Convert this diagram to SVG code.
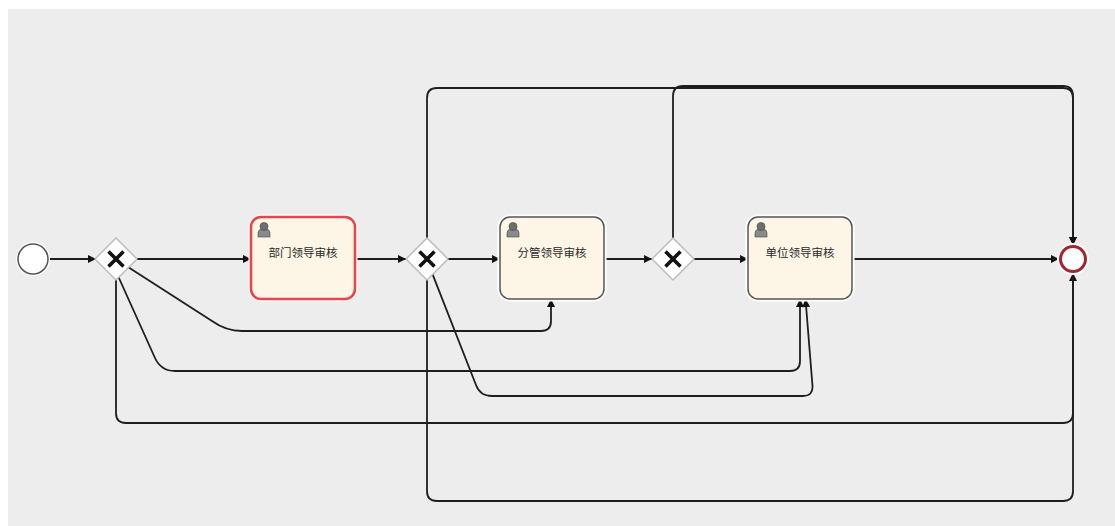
<svg xmlns="http://www.w3.org/2000/svg" width="1115" height="526" viewBox="0 0 1115 526">
<defs>
<style>
.edge{fill:none;stroke:#1e1e1e;stroke-width:1.8;}
.gw{fill:#fff;stroke:#bdbdbd;stroke-width:1.5;}
.gwx{stroke:#111;stroke-width:3.6;stroke-linecap:butt;}
.halo{fill:none;stroke:#fff;stroke-width:5;}
.task{fill:#fdf5e6;stroke:#555;stroke-width:1.5;}
.task-sel{fill:#fdf5e6;stroke:#e8454a;stroke-width:2.6;}
.lbl{font-family:"Noto Sans CJK SC","Noto Sans",sans-serif;font-size:11.5px;fill:#2a2a2a;text-anchor:middle;dominant-baseline:central;}
.uh{fill:#6f6f6f;stroke:#444;stroke-width:0.6;}
.ub{fill:#8a8a8a;stroke:#444;stroke-width:0.6;}
</style>
<marker id="arrL" viewBox="0 0 10 10" refX="10" refY="5" markerWidth="11" markerHeight="8" orient="auto" markerUnits="userSpaceOnUse">
<path d="M0,0 L10,5 L0,10 z" fill="#111"/>
</marker>
<g id="usericon">
<path class="ub" d="M0,15 L0,11 Q0,7.5 4,7 L8,7 Q12,7.5 12,11 L12,15 z"/>
<circle class="uh" cx="6" cy="4.5" r="4"/>
</g>
</defs>
<rect x="0" y="0" width="1115" height="526" fill="#ffffff"/>
<rect x="8" y="9" width="1107" height="517" fill="#ededed"/>

<g id="connectors">
<path class="edge" d="M48,259 H96" marker-end="url(#arrL)"/>
<path class="edge" d="M137,259 H251" marker-end="url(#arrL)"/>
<path class="edge" d="M355,259 H406" marker-end="url(#arrL)"/>
<path class="edge" d="M448,259 H500" marker-end="url(#arrL)"/>
<path class="edge" d="M604,259 H652" marker-end="url(#arrL)"/>
<path class="edge" d="M694,259 H748" marker-end="url(#arrL)"/>
<path class="edge" d="M852,259 H1059" marker-end="url(#arrL)"/>
<path class="edge" d="M427,238 V98 Q427,88 437,88 H1063 Q1073,88 1073,98 V245" marker-end="url(#arrL)"/>
<path class="edge" d="M673,238 V96 Q673,86 683,86 H1063 Q1073,86 1073,96 V245" marker-end="url(#arrL)"/>
<path class="edge" d="M116,280 V413 Q116,423 126,423 H1063 Q1073,423 1073,413 V273" marker-end="url(#arrL)"/>
<path class="edge" d="M427,280 V491 Q427,501 437,501 H1063 Q1073,501 1073,491 V273"/>
<path class="edge" d="M128,267 L212,321 Q226,331 242,331 H541 Q551,331 551,321 V299" marker-end="url(#arrL)"/>
<path class="edge" d="M118.5,277 L155,358 Q161,371 175,371 H790 Q800,371 800,361 V299" marker-end="url(#arrL)"/>
<path class="edge" d="M432.6,274.4 L476,385 Q480,396 492,396 H803 Q813,396 812.5,386 L805.5,299" marker-end="url(#arrL)"/>
</g>

<g id="start">
<circle cx="33" cy="259" r="15" fill="#fff" stroke="#fff" stroke-width="4"/>
<circle cx="33" cy="259" r="15" fill="#fff" stroke="#555" stroke-width="1.5"/>
</g>

<g id="gateway1">
<path class="gw" d="M116,238 L137,259 L116,280 L95,259 z"/>
<path class="gwx" d="M108.5,251.5 L123.5,266.5 M123.5,251.5 L108.5,266.5"/>
</g>

<g id="task1">
<rect class="halo" x="251" y="217" width="104" height="82" rx="10"/>
<rect class="task-sel" x="251" y="217" width="104" height="82" rx="10"/>
<use href="#usericon" x="258" y="222"/>
<text class="lbl" x="303" y="252">部门领导审核</text>
</g>

<g id="gateway2">
<path class="gw" d="M427,238 L448,259 L427,280 L406,259 z"/>
<path class="gwx" d="M419.5,251.5 L434.5,266.5 M434.5,251.5 L419.5,266.5"/>
</g>

<g id="task2">
<rect class="halo" x="500" y="217" width="104" height="82" rx="10"/>
<rect class="task" x="500" y="217" width="104" height="82" rx="10"/>
<use href="#usericon" x="507" y="222"/>
<text class="lbl" x="552" y="252">分管领导审核</text>
</g>

<g id="gateway3">
<path class="gw" d="M673,238 L694,259 L673,280 L652,259 z"/>
<path class="gwx" d="M665.5,251.5 L680.5,266.5 M680.5,251.5 L665.5,266.5"/>
</g>

<g id="task3">
<rect class="halo" x="748" y="217" width="104" height="82" rx="10"/>
<rect class="task" x="748" y="217" width="104" height="82" rx="10"/>
<use href="#usericon" x="755" y="222"/>
<text class="lbl" x="800" y="252">单位领导审核</text>
</g>

<g id="end">
<circle cx="1073" cy="259" r="13" fill="#fff" stroke="#fff" stroke-width="6"/>
<circle cx="1073" cy="259" r="12.5" fill="#fff" stroke="#a3262c" stroke-width="3"/>
</g>
</svg>
